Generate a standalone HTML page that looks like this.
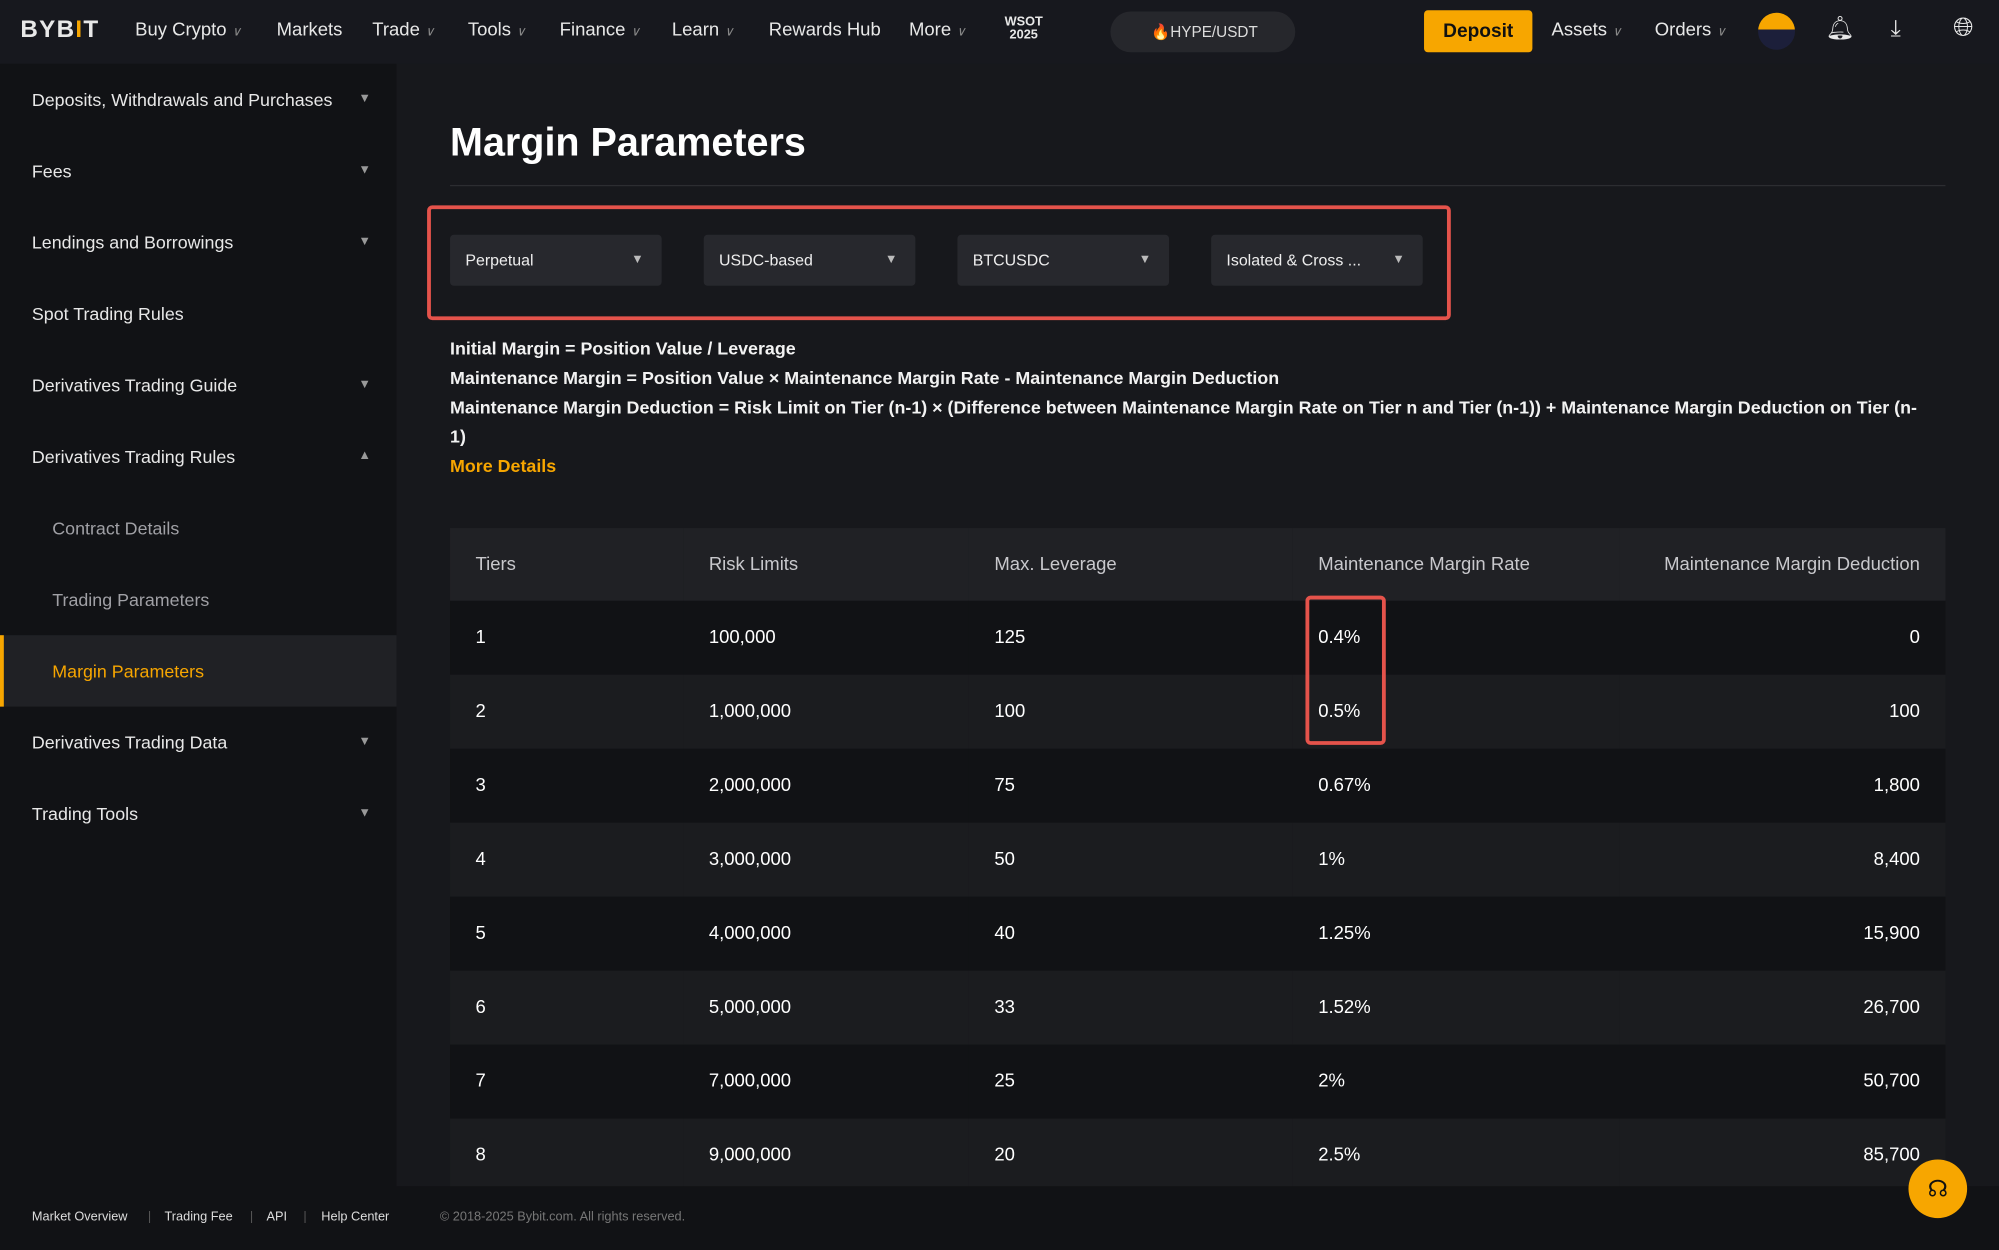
<!DOCTYPE html>
<html><head><meta charset="utf-8"><style>
*{margin:0;padding:0;box-sizing:border-box}
html,body{width:1999px;height:1250px;overflow:hidden;background:#17181c}
#w{width:1568px;height:980px;transform:scale(1.27487,1.27551);transform-origin:0 0;position:relative;font-family:"Liberation Sans",sans-serif;color:#fff;background:#17181c}
.hdr{position:absolute;left:0;top:0;width:1568px;height:50px;background:#17181e}
.hdr span{position:absolute;top:16px;font-size:14.5px;color:#e8e8e8}
.chev{color:#888;font-size:10px}
.side{position:absolute;left:0;top:50px;width:311px;height:880px;background:#111215}
.si{position:absolute;left:0;width:311px;height:56px;line-height:56px;padding-left:25px;font-size:14px;color:#e8e8e8}
.si.sub{padding-left:41px;color:#a0a0a5}
.si .ar{position:absolute;right:20px;top:0;font-size:10px;color:#999}
.si.act{background:#202125;color:#f7a600;border-left:3px solid #f7a600;padding-left:38px}
.dd{position:absolute;top:184px;width:166px;height:40px;background:#27282d;border-radius:3px;font-size:12.5px;line-height:40px;padding-left:12px;color:#eee}
.dd i{position:absolute;right:14px;font-style:normal;font-size:10px;color:#bbb}
.f{position:absolute;left:353px;font-size:14px;font-weight:bold;color:#f2f2f2;white-space:nowrap}
table{position:absolute;left:353px;top:414px;width:1173px;border-collapse:collapse;font-size:14.5px;table-layout:fixed}
td,th{height:58px;padding:0 20px;text-align:left;font-weight:normal}
th{background:#202125;color:#c8c8cc;height:57px}
tr:nth-child(even) td{background:#111215}
tr:nth-child(odd) td{background:#1b1c1f}
.r{text-align:right}
.foot{position:absolute;left:0;top:930px;width:1568px;height:50px;background:#111215;font-size:10px;color:#ddd}
.foot span{position:absolute;top:19px}
</style></head><body><div id="w">
<div class="hdr">
<span style="left:16px;top:13px;font-size:19px;font-weight:bold;letter-spacing:1px">BYB<b style="color:#f7a600">I</b>T</span>
<span style="left:106px">Buy Crypto <i class="chev">∨</i></span>
<span style="left:217px">Markets</span>
<span style="left:292px">Trade <i class="chev">∨</i></span>
<span style="left:367px">Tools <i class="chev">∨</i></span>
<span style="left:439px">Finance <i class="chev">∨</i></span>
<span style="left:527px">Learn <i class="chev">∨</i></span>
<span style="left:603px">Rewards Hub</span>
<span style="left:713px">More <i class="chev">∨</i></span>
<span style="left:788px;top:13px;font-size:10px;font-weight:bold;line-height:10px;text-align:center">WSOT<br>2025</span>
<div style="position:absolute;left:871px;top:9px;width:145px;height:32px;background:#26272c;border-radius:16px;font-size:12px;line-height:32px;padding-left:32px;color:#ddd">🔥HYPE/USDT</div>
<div style="position:absolute;left:1117px;top:8px;width:85px;height:33px;background:#f7a600;border-radius:3px;color:#111;font-weight:bold;font-size:15px;text-align:center;line-height:33px">Deposit</div>
<span style="left:1217px">Assets <i class="chev">∨</i></span>
<span style="left:1298px">Orders <i class="chev">∨</i></span>
<div style="position:absolute;left:1379px;top:10px;width:29px;height:29px;border-radius:50%;background:linear-gradient(#f7a600 45%,#1c1f3a 45%)"></div>
<span style="left:1432px;top:12px;font-size:18px">🔔︎</span>
<span style="left:1483px;top:12px;font-size:18px">⤓</span>
<span style="left:1532px;top:11px;font-size:20px">🌐︎</span>
</div>
<div class="side">
<div class="si" style="top:0">Deposits, Withdrawals and Purchases<span class="ar">▼</span></div>
<div class="si" style="top:56px">Fees<span class="ar">▼</span></div>
<div class="si" style="top:112px">Lendings and Borrowings<span class="ar">▼</span></div>
<div class="si" style="top:168px">Spot Trading Rules</div>
<div class="si" style="top:224px">Derivatives Trading Guide<span class="ar">▼</span></div>
<div class="si" style="top:280px">Derivatives Trading Rules<span class="ar">▲</span></div>
<div class="si sub" style="top:336px">Contract Details</div>
<div class="si sub" style="top:392px">Trading Parameters</div>
<div class="si act" style="top:448px">Margin Parameters</div>
<div class="si" style="top:504px">Derivatives Trading Data<span class="ar">▼</span></div>
<div class="si" style="top:560px">Trading Tools<span class="ar">▼</span></div>
</div>
<div style="position:absolute;left:353px;top:94px;font-size:31px;font-weight:bold">Margin Parameters</div>
<div style="position:absolute;left:353px;top:145px;width:1173px;height:1px;background:#2c2d31"></div>
<div style="position:absolute;left:335px;top:161px;width:803px;height:90px;border:3px solid #e5534b;border-radius:4px"></div>
<div class="dd" style="left:353px">Perpetual<i>▼</i></div>
<div class="dd" style="left:552px">USDC-based<i>▼</i></div>
<div class="dd" style="left:751px">BTCUSDC<i>▼</i></div>
<div class="dd" style="left:950px">Isolated &amp; Cross ...<i>▼</i></div>
<div class="f" style="top:265px">Initial Margin = Position Value / Leverage</div>
<div class="f" style="top:288px">Maintenance Margin = Position Value × Maintenance Margin Rate - Maintenance Margin Deduction</div>
<div class="f" style="top:308px;line-height:23px">Maintenance Margin Deduction = Risk Limit on Tier (n-1) × (Difference between Maintenance Margin Rate on Tier n and Tier (n-1)) + Maintenance Margin Deduction on Tier (n-<br>1)</div>
<div class="f" style="top:357px;color:#f7a600">More Details</div>
<table>
<colgroup><col style="width:183px"><col style="width:224px"><col style="width:254px"><col><col></colgroup>
<tr><th>Tiers</th><th>Risk Limits</th><th>Max. Leverage</th><th>Maintenance Margin Rate</th><th class="r">Maintenance Margin Deduction</th></tr>
<tr><td>1</td><td>100,000</td><td>125</td><td>0.4%</td><td class="r">0</td></tr>
<tr><td>2</td><td>1,000,000</td><td>100</td><td>0.5%</td><td class="r">100</td></tr>
<tr><td>3</td><td>2,000,000</td><td>75</td><td>0.67%</td><td class="r">1,800</td></tr>
<tr><td>4</td><td>3,000,000</td><td>50</td><td>1%</td><td class="r">8,400</td></tr>
<tr><td>5</td><td>4,000,000</td><td>40</td><td>1.25%</td><td class="r">15,900</td></tr>
<tr><td>6</td><td>5,000,000</td><td>33</td><td>1.52%</td><td class="r">26,700</td></tr>
<tr><td>7</td><td>7,000,000</td><td>25</td><td>2%</td><td class="r">50,700</td></tr>
<tr><td>8</td><td>9,000,000</td><td>20</td><td>2.5%</td><td class="r">85,700</td></tr>
</table>
<div style="position:absolute;left:1024px;top:467px;width:63px;height:117px;border:3px solid #e5534b;border-radius:4px"></div>
<div class="foot">
<span style="left:25px">Market Overview</span><span style="left:116px;color:#555">|</span>
<span style="left:129px">Trading Fee</span><span style="left:196px;color:#555">|</span>
<span style="left:209px">API</span><span style="left:238px;color:#555">|</span>
<span style="left:252px">Help Center</span>
<span style="left:345px;color:#777">© 2018-2025 Bybit.com. All rights reserved.</span>
</div>
<div style="position:absolute;left:1497px;top:909px;width:46px;height:46px;border-radius:50%;background:#f7a600;color:#111;text-align:center;line-height:46px;font-size:18px">☊</div>
</div></body></html>
